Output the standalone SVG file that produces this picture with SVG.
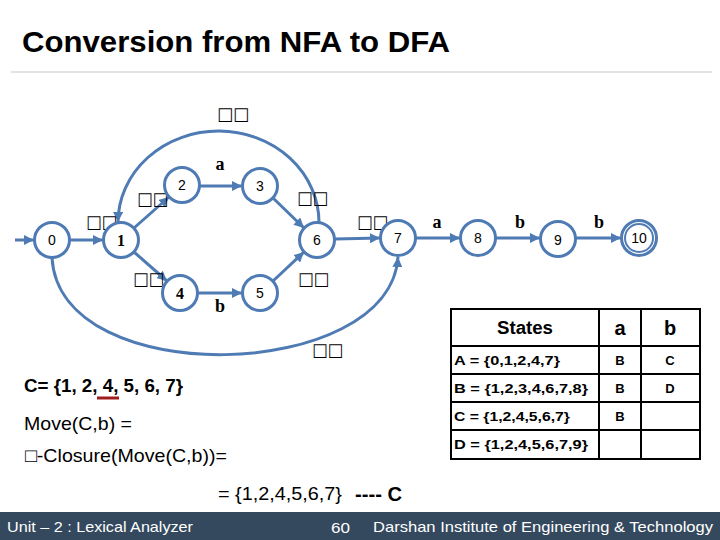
<svg xmlns="http://www.w3.org/2000/svg" width="720" height="540" viewBox="0 0 720 540">
  <defs>
    <marker id="arr" viewBox="0 0 10 10" refX="10" refY="5" markerWidth="10" markerHeight="10" markerUnits="userSpaceOnUse" orient="auto">
      <path d="M0,0 L10,5 L0,10 z" fill="#4f7bb4"/>
    </marker>
    <style>
      .node circle { fill: #ffffff; stroke: #4f7bb4; stroke-width: 3; }
      .edge { fill: none; stroke: #4f7bb4; stroke-width: 3; marker-end: url(#arr); }
      .ns { font-family: "Liberation Sans", Arial, sans-serif; font-size: 14px; fill: #000; text-anchor: middle; dominant-baseline: central; }
      .nb { font-family: "Liberation Serif", "Times New Roman", serif; font-size: 16px; font-weight: bold; fill: #000; text-anchor: middle; dominant-baseline: central; }
      .lab { font-family: "Liberation Serif", "Times New Roman", serif; font-size: 18px; font-weight: bold; fill: #000; text-anchor: middle; dominant-baseline: central; }
      .eps { font-family: "DejaVu Sans", sans-serif; font-size: 18px; fill: #000; dominant-baseline: central; }
      .tb { font-family: "Liberation Sans", Arial, sans-serif; font-weight: bold; fill: #000; dominant-baseline: central; }
      .tx { font-family: "Liberation Sans", Arial, sans-serif; fill: #000; dominant-baseline: central; }
      .foot { font-family: "Liberation Sans", Arial, sans-serif; font-size: 15px; fill: #ffffff; dominant-baseline: central; }
      .cell { fill: none; stroke: #000; stroke-width: 2; }
    </style>
  </defs>
  <rect width="720" height="540" fill="#ffffff"/>

  <!-- Title -->
  <text x="22" y="52" font-family="Liberation Sans, Arial, sans-serif" font-size="30" font-weight="bold" textLength="428" lengthAdjust="spacingAndGlyphs">Conversion from NFA to DFA</text>
  <line x1="11" y1="72" x2="712" y2="72" stroke="#d9d9d9" stroke-width="1.5"/>

  <!-- Connectors -->
  <g id="connectors">
    <path class="edge" d="M15,240 L34,240"/>
    <path class="edge" d="M70,240 L103,240"/>
    <path class="edge" d="M134,228 L169,197"/>
    <path class="edge" d="M200,186 L242,186"/>
    <path class="edge" d="M273,198 L304,228"/>
    <path class="edge" d="M134,252 L167,281"/>
    <path class="edge" d="M198,293 L242,293"/>
    <path class="edge" d="M273,281 L304,252"/>
    <path class="edge" d="M335,239 L380,238"/>
    <path class="edge" d="M416,238 L460,238"/>
    <path class="edge" d="M496,238 L540,238"/>
    <path class="edge" d="M576,238 L621,238"/>
    <path class="edge" d="M319,223 A100,91 0 0 0 118,222"/>
    <path class="edge" d="M52,258 C60,392 390,382 398,257"/>
  </g>

  <!-- Edge labels -->
  <g id="edge-labels">
    <text class="eps" x="217" y="113" textLength="32" lengthAdjust="spacingAndGlyphs">□□</text>
    <text class="lab" x="220" y="164">a</text>
    <text class="eps" x="137" y="198" textLength="31" lengthAdjust="spacingAndGlyphs">□□</text>
    <text class="eps" x="86" y="221" textLength="31" lengthAdjust="spacingAndGlyphs">□□</text>
    <text class="eps" x="297" y="197" textLength="31" lengthAdjust="spacingAndGlyphs">□□</text>
    <text class="eps" x="133" y="278" textLength="31" lengthAdjust="spacingAndGlyphs">□□</text>
    <text class="lab" x="220" y="306">b</text>
    <text class="eps" x="298" y="278" textLength="31" lengthAdjust="spacingAndGlyphs">□□</text>
    <text class="eps" x="357" y="221" textLength="31" lengthAdjust="spacingAndGlyphs">□□</text>
    <text class="lab" x="437" y="222">a</text>
    <text class="lab" x="520" y="222">b</text>
    <text class="lab" x="599" y="222">b</text>
    <text class="eps" x="312" y="349" textLength="31" lengthAdjust="spacingAndGlyphs">□□</text>
  </g>

  <!-- Nodes -->
  <g id="n0" class="node"><circle cx="52" cy="240" r="17.5"/><text class="ns" x="52" y="240">0</text></g>
  <g id="n1" class="node"><circle cx="121" cy="240" r="17.5"/><text class="nb" x="121" y="240">1</text></g>
  <g id="n2" class="node"><circle cx="182" cy="185" r="17.5"/><text class="ns" x="182" y="185">2</text></g>
  <g id="n3" class="node"><circle cx="260" cy="186" r="17.5"/><text class="ns" x="260" y="186">3</text></g>
  <g id="n4" class="node"><circle cx="180" cy="293" r="17.5"/><text class="nb" x="180" y="293">4</text></g>
  <g id="n5" class="node"><circle cx="260" cy="293" r="17.5"/><text class="ns" x="260" y="293">5</text></g>
  <g id="n6" class="node"><circle cx="317" cy="240" r="17.5"/><text class="ns" x="317" y="240">6</text></g>
  <g id="n7" class="node"><circle cx="398" cy="238" r="17.5"/><text class="ns" x="398" y="238">7</text></g>
  <g id="n8" class="node"><circle cx="478" cy="238" r="17.5"/><text class="ns" x="478" y="238">8</text></g>
  <g id="n9" class="node"><circle cx="558" cy="239" r="17.5"/><text class="ns" x="558" y="240">9</text></g>
  <g id="n10" class="node"><circle cx="639" cy="238" r="17.5"/><circle cx="639" cy="238" r="14" style="stroke-width:2"/><text class="ns" x="639" y="238">10</text></g>

  <!-- Table -->
  <g id="table">
    <rect class="cell" x="451" y="309" width="249" height="150"/>
    <line class="cell" x1="599" y1="309" x2="599" y2="459"/>
    <line class="cell" x1="641" y1="309" x2="641" y2="459"/>
    <line class="cell" x1="451" y1="346" x2="700" y2="346"/>
    <line class="cell" x1="451" y1="374" x2="700" y2="374"/>
    <line class="cell" x1="451" y1="402" x2="700" y2="402"/>
    <line class="cell" x1="451" y1="430" x2="700" y2="430"/>
    <text class="tb" x="497" y="328" font-size="18" textLength="56" lengthAdjust="spacingAndGlyphs">States</text>
    <text class="tb" x="620" y="328" font-size="20" text-anchor="middle">a</text>
    <text class="tb" x="670" y="328" font-size="20" text-anchor="middle">b</text>
    <text class="tb" x="454" y="360" font-size="13" textLength="106" lengthAdjust="spacingAndGlyphs">A = {0,1,2,4,7}</text>
    <text class="tb" x="620" y="360" font-size="13" text-anchor="middle">B</text>
    <text class="tb" x="670" y="360" font-size="13" text-anchor="middle">C</text>
    <text class="tb" x="454" y="388" font-size="13" textLength="134" lengthAdjust="spacingAndGlyphs">B = {1,2,3,4,6,7,8}</text>
    <text class="tb" x="620" y="388" font-size="13" text-anchor="middle">B</text>
    <text class="tb" x="670" y="388" font-size="13" text-anchor="middle">D</text>
    <text class="tb" x="454" y="416" font-size="13" textLength="116" lengthAdjust="spacingAndGlyphs">C = {1,2,4,5,6,7}</text>
    <text class="tb" x="620" y="416" font-size="13" text-anchor="middle">B</text>
    <text class="tb" x="454" y="444" font-size="13" textLength="134" lengthAdjust="spacingAndGlyphs">D = {1,2,4,5,6,7,9}</text>
  </g>

  <!-- Left working -->
  <g id="working">
    <text class="tb" x="24" y="385" font-size="19" textLength="159" lengthAdjust="spacingAndGlyphs">C= {1, 2, 4, 5, 6, 7}</text>
    <line x1="97" y1="398" x2="119" y2="398" stroke="#a01c1c" stroke-width="3"/>
    <text class="tx" x="24" y="423" font-size="19" textLength="108" lengthAdjust="spacingAndGlyphs">Move(C,b) =</text>
    <text class="tx" x="25" y="455" font-size="19" textLength="202" lengthAdjust="spacingAndGlyphs">□-Closure(Move(C,b))=</text>
    <text class="tx" x="218" y="493" font-size="19" textLength="124" lengthAdjust="spacingAndGlyphs">= {1,2,4,5,6,7}</text>
    <text class="tb" x="355" y="494" font-size="20" textLength="47" lengthAdjust="spacingAndGlyphs">---- C</text>
  </g>

  <!-- Footer -->
  <rect x="0" y="512" width="720" height="28" fill="#34495e"/>
  <text class="foot" x="7" y="526" textLength="186" lengthAdjust="spacingAndGlyphs">Unit – 2 : Lexical Analyzer</text>
  <text class="foot" x="331" y="527" textLength="19" lengthAdjust="spacingAndGlyphs">60</text>
  <text class="foot" x="373" y="526" textLength="340" lengthAdjust="spacingAndGlyphs">Darshan Institute of Engineering &amp; Technology</text>
</svg>
